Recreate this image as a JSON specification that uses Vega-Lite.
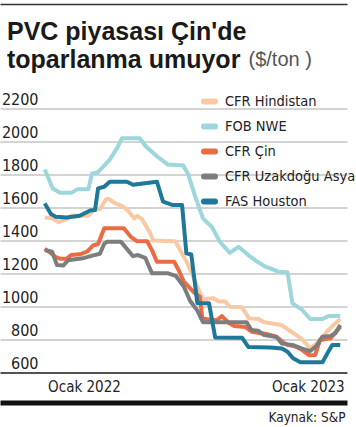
{
  "$schema": "https://vega.github.io/schema/vega-lite/v6.json",
  "autosize": "none",
  "width": 347,
  "height": 264,
  "padding": {"left": 0, "top": 108.5, "right": 9, "bottom": 54.5},
  "background": "white",
  "title": {
    "text": ["PVC piyasası Çin'de", "toparlanma umuyor"],
    "anchor": "start",
    "frame": "group",
    "font": "Liberation Sans",
    "fontSize": 25,
    "fontWeight": "bold",
    "color": "#1a1a1a",
    "lineHeight": 28,
    "baseline": "alphabetic",
    "offset": -88.5,
    "dx": 7
  },
  "config": {"view": {"stroke": null}},
  "data": {"values": [
    {"seri": "CFR Hindistan", "tarih": "2021-10-29", "fiyat": 1540},
    {"seri": "CFR Hindistan", "tarih": "2021-11-10", "fiyat": 1534},
    {"seri": "CFR Hindistan", "tarih": "2021-11-20", "fiyat": 1512},
    {"seri": "CFR Hindistan", "tarih": "2021-12-03", "fiyat": 1530},
    {"seri": "CFR Hindistan", "tarih": "2021-12-12", "fiyat": 1550},
    {"seri": "CFR Hindistan", "tarih": "2022-01-08", "fiyat": 1550},
    {"seri": "CFR Hindistan", "tarih": "2022-01-16", "fiyat": 1582},
    {"seri": "CFR Hindistan", "tarih": "2022-01-27", "fiyat": 1592},
    {"seri": "CFR Hindistan", "tarih": "2022-02-06", "fiyat": 1650},
    {"seri": "CFR Hindistan", "tarih": "2022-02-11", "fiyat": 1651},
    {"seri": "CFR Hindistan", "tarih": "2022-02-21", "fiyat": 1625},
    {"seri": "CFR Hindistan", "tarih": "2022-03-04", "fiyat": 1610},
    {"seri": "CFR Hindistan", "tarih": "2022-03-14", "fiyat": 1580},
    {"seri": "CFR Hindistan", "tarih": "2022-03-24", "fiyat": 1534},
    {"seri": "CFR Hindistan", "tarih": "2022-03-29", "fiyat": 1550},
    {"seri": "CFR Hindistan", "tarih": "2022-04-06", "fiyat": 1528},
    {"seri": "CFR Hindistan", "tarih": "2022-04-19", "fiyat": 1444},
    {"seri": "CFR Hindistan", "tarih": "2022-04-24", "fiyat": 1400},
    {"seri": "CFR Hindistan", "tarih": "2022-05-30", "fiyat": 1395},
    {"seri": "CFR Hindistan", "tarih": "2022-06-07", "fiyat": 1340},
    {"seri": "CFR Hindistan", "tarih": "2022-06-17", "fiyat": 1275},
    {"seri": "CFR Hindistan", "tarih": "2022-06-26", "fiyat": 1200},
    {"seri": "CFR Hindistan", "tarih": "2022-07-06", "fiyat": 1110},
    {"seri": "CFR Hindistan", "tarih": "2022-07-14", "fiyat": 1045},
    {"seri": "CFR Hindistan", "tarih": "2022-07-31", "fiyat": 1050},
    {"seri": "CFR Hindistan", "tarih": "2022-08-09", "fiyat": 1030},
    {"seri": "CFR Hindistan", "tarih": "2022-08-19", "fiyat": 1030},
    {"seri": "CFR Hindistan", "tarih": "2022-08-27", "fiyat": 999},
    {"seri": "CFR Hindistan", "tarih": "2022-09-16", "fiyat": 995},
    {"seri": "CFR Hindistan", "tarih": "2022-09-27", "fiyat": 928},
    {"seri": "CFR Hindistan", "tarih": "2022-10-12", "fiyat": 925},
    {"seri": "CFR Hindistan", "tarih": "2022-10-22", "fiyat": 905},
    {"seri": "CFR Hindistan", "tarih": "2022-11-19", "fiyat": 888},
    {"seri": "CFR Hindistan", "tarih": "2022-12-05", "fiyat": 847},
    {"seri": "CFR Hindistan", "tarih": "2022-12-21", "fiyat": 807},
    {"seri": "CFR Hindistan", "tarih": "2023-01-05", "fiyat": 747},
    {"seri": "CFR Hindistan", "tarih": "2023-01-17", "fiyat": 780},
    {"seri": "CFR Hindistan", "tarih": "2023-01-30", "fiyat": 838},
    {"seri": "CFR Hindistan", "tarih": "2023-02-12", "fiyat": 888},
    {"seri": "CFR Hindistan", "tarih": "2023-02-23", "fiyat": 925},

    {"seri": "FOB NWE", "tarih": "2021-10-29", "fiyat": 1830},
    {"seri": "FOB NWE", "tarih": "2021-11-11", "fiyat": 1715},
    {"seri": "FOB NWE", "tarih": "2021-11-23", "fiyat": 1690},
    {"seri": "FOB NWE", "tarih": "2021-12-12", "fiyat": 1690},
    {"seri": "FOB NWE", "tarih": "2021-12-21", "fiyat": 1710},
    {"seri": "FOB NWE", "tarih": "2022-01-08", "fiyat": 1710},
    {"seri": "FOB NWE", "tarih": "2022-01-14", "fiyat": 1805},
    {"seri": "FOB NWE", "tarih": "2022-01-24", "fiyat": 1815},
    {"seri": "FOB NWE", "tarih": "2022-02-12", "fiyat": 1890},
    {"seri": "FOB NWE", "tarih": "2022-02-24", "fiyat": 1960},
    {"seri": "FOB NWE", "tarih": "2022-03-04", "fiyat": 2020},
    {"seri": "FOB NWE", "tarih": "2022-04-02", "fiyat": 2020},
    {"seri": "FOB NWE", "tarih": "2022-04-12", "fiyat": 1970},
    {"seri": "FOB NWE", "tarih": "2022-04-30", "fiyat": 1910},
    {"seri": "FOB NWE", "tarih": "2022-05-18", "fiyat": 1860},
    {"seri": "FOB NWE", "tarih": "2022-06-12", "fiyat": 1855},
    {"seri": "FOB NWE", "tarih": "2022-06-20", "fiyat": 1800},
    {"seri": "FOB NWE", "tarih": "2022-07-01", "fiyat": 1670},
    {"seri": "FOB NWE", "tarih": "2022-07-14", "fiyat": 1534},
    {"seri": "FOB NWE", "tarih": "2022-07-29", "fiyat": 1480},
    {"seri": "FOB NWE", "tarih": "2022-08-11", "fiyat": 1390},
    {"seri": "FOB NWE", "tarih": "2022-08-27", "fiyat": 1325},
    {"seri": "FOB NWE", "tarih": "2022-09-10", "fiyat": 1362},
    {"seri": "FOB NWE", "tarih": "2022-09-26", "fiyat": 1312},
    {"seri": "FOB NWE", "tarih": "2022-10-11", "fiyat": 1271},
    {"seri": "FOB NWE", "tarih": "2022-10-24", "fiyat": 1241},
    {"seri": "FOB NWE", "tarih": "2022-11-01", "fiyat": 1231},
    {"seri": "FOB NWE", "tarih": "2022-11-14", "fiyat": 1211},
    {"seri": "FOB NWE", "tarih": "2022-11-29", "fiyat": 1207},
    {"seri": "FOB NWE", "tarih": "2022-12-07", "fiyat": 1019},
    {"seri": "FOB NWE", "tarih": "2022-12-23", "fiyat": 979},
    {"seri": "FOB NWE", "tarih": "2023-01-05", "fiyat": 924},
    {"seri": "FOB NWE", "tarih": "2023-01-25", "fiyat": 924},
    {"seri": "FOB NWE", "tarih": "2023-02-04", "fiyat": 942},
    {"seri": "FOB NWE", "tarih": "2023-02-23", "fiyat": 942},

    {"seri": "CFR Çin", "tarih": "2021-10-29", "fiyat": 1350},
    {"seri": "CFR Çin", "tarih": "2021-11-16", "fiyat": 1300},
    {"seri": "CFR Çin", "tarih": "2021-11-23", "fiyat": 1290},
    {"seri": "CFR Çin", "tarih": "2021-12-04", "fiyat": 1290},
    {"seri": "CFR Çin", "tarih": "2021-12-11", "fiyat": 1312},
    {"seri": "CFR Çin", "tarih": "2021-12-25", "fiyat": 1316},
    {"seri": "CFR Çin", "tarih": "2022-01-06", "fiyat": 1332},
    {"seri": "CFR Çin", "tarih": "2022-01-16", "fiyat": 1370},
    {"seri": "CFR Çin", "tarih": "2022-01-24", "fiyat": 1379},
    {"seri": "CFR Çin", "tarih": "2022-02-03", "fiyat": 1474},
    {"seri": "CFR Çin", "tarih": "2022-03-07", "fiyat": 1474},
    {"seri": "CFR Çin", "tarih": "2022-03-19", "fiyat": 1420},
    {"seri": "CFR Çin", "tarih": "2022-03-29", "fiyat": 1395},
    {"seri": "CFR Çin", "tarih": "2022-04-14", "fiyat": 1395},
    {"seri": "CFR Çin", "tarih": "2022-04-22", "fiyat": 1340},
    {"seri": "CFR Çin", "tarih": "2022-04-30", "fiyat": 1271},
    {"seri": "CFR Çin", "tarih": "2022-05-28", "fiyat": 1271},
    {"seri": "CFR Çin", "tarih": "2022-06-05", "fiyat": 1216},
    {"seri": "CFR Çin", "tarih": "2022-06-13", "fiyat": 1150},
    {"seri": "CFR Çin", "tarih": "2022-07-01", "fiyat": 1080},
    {"seri": "CFR Çin", "tarih": "2022-07-09", "fiyat": 1060},
    {"seri": "CFR Çin", "tarih": "2022-07-13", "fiyat": 928},
    {"seri": "CFR Çin", "tarih": "2022-07-26", "fiyat": 920},
    {"seri": "CFR Çin", "tarih": "2022-08-06", "fiyat": 918},
    {"seri": "CFR Çin", "tarih": "2022-08-14", "fiyat": 942},
    {"seri": "CFR Çin", "tarih": "2022-08-26", "fiyat": 898},
    {"seri": "CFR Çin", "tarih": "2022-09-03", "fiyat": 882},
    {"seri": "CFR Çin", "tarih": "2022-09-21", "fiyat": 876},
    {"seri": "CFR Çin", "tarih": "2022-10-02", "fiyat": 847},
    {"seri": "CFR Çin", "tarih": "2022-10-12", "fiyat": 840},
    {"seri": "CFR Çin", "tarih": "2022-10-24", "fiyat": 835},
    {"seri": "CFR Çin", "tarih": "2022-11-11", "fiyat": 817},
    {"seri": "CFR Çin", "tarih": "2022-11-27", "fiyat": 770},
    {"seri": "CFR Çin", "tarih": "2022-12-12", "fiyat": 757},
    {"seri": "CFR Çin", "tarih": "2022-12-23", "fiyat": 736},
    {"seri": "CFR Çin", "tarih": "2023-01-03", "fiyat": 705},
    {"seri": "CFR Çin", "tarih": "2023-01-13", "fiyat": 706},
    {"seri": "CFR Çin", "tarih": "2023-01-21", "fiyat": 797},
    {"seri": "CFR Çin", "tarih": "2023-02-07", "fiyat": 807},
    {"seri": "CFR Çin", "tarih": "2023-02-23", "fiyat": 878},

    {"seri": "CFR Uzakdoğu Asya", "tarih": "2021-10-29", "fiyat": 1342},
    {"seri": "CFR Uzakdoğu Asya", "tarih": "2021-11-10", "fiyat": 1332},
    {"seri": "CFR Uzakdoğu Asya", "tarih": "2021-11-18", "fiyat": 1251},
    {"seri": "CFR Uzakdoğu Asya", "tarih": "2021-11-28", "fiyat": 1248},
    {"seri": "CFR Uzakdoğu Asya", "tarih": "2021-12-06", "fiyat": 1280},
    {"seri": "CFR Uzakdoğu Asya", "tarih": "2021-12-30", "fiyat": 1292},
    {"seri": "CFR Uzakdoğu Asya", "tarih": "2022-01-16", "fiyat": 1310},
    {"seri": "CFR Uzakdoğu Asya", "tarih": "2022-01-27", "fiyat": 1320},
    {"seri": "CFR Uzakdoğu Asya", "tarih": "2022-02-03", "fiyat": 1380},
    {"seri": "CFR Uzakdoğu Asya", "tarih": "2022-02-08", "fiyat": 1393},
    {"seri": "CFR Uzakdoğu Asya", "tarih": "2022-03-02", "fiyat": 1393},
    {"seri": "CFR Uzakdoğu Asya", "tarih": "2022-03-14", "fiyat": 1340},
    {"seri": "CFR Uzakdoğu Asya", "tarih": "2022-03-22", "fiyat": 1305},
    {"seri": "CFR Uzakdoğu Asya", "tarih": "2022-03-30", "fiyat": 1312},
    {"seri": "CFR Uzakdoğu Asya", "tarih": "2022-04-11", "fiyat": 1295},
    {"seri": "CFR Uzakdoğu Asya", "tarih": "2022-04-16", "fiyat": 1251},
    {"seri": "CFR Uzakdoğu Asya", "tarih": "2022-04-22", "fiyat": 1201},
    {"seri": "CFR Uzakdoğu Asya", "tarih": "2022-05-18", "fiyat": 1201},
    {"seri": "CFR Uzakdoğu Asya", "tarih": "2022-05-31", "fiyat": 1185},
    {"seri": "CFR Uzakdoğu Asya", "tarih": "2022-06-07", "fiyat": 1150},
    {"seri": "CFR Uzakdoğu Asya", "tarih": "2022-06-13", "fiyat": 1120},
    {"seri": "CFR Uzakdoğu Asya", "tarih": "2022-06-23", "fiyat": 1035},
    {"seri": "CFR Uzakdoğu Asya", "tarih": "2022-07-05", "fiyat": 975},
    {"seri": "CFR Uzakdoğu Asya", "tarih": "2022-07-14", "fiyat": 905},
    {"seri": "CFR Uzakdoğu Asya", "tarih": "2022-09-23", "fiyat": 905},
    {"seri": "CFR Uzakdoğu Asya", "tarih": "2022-10-01", "fiyat": 858},
    {"seri": "CFR Uzakdoğu Asya", "tarih": "2022-10-12", "fiyat": 853},
    {"seri": "CFR Uzakdoğu Asya", "tarih": "2022-10-22", "fiyat": 827},
    {"seri": "CFR Uzakdoğu Asya", "tarih": "2022-11-11", "fiyat": 815},
    {"seri": "CFR Uzakdoğu Asya", "tarih": "2022-11-20", "fiyat": 775},
    {"seri": "CFR Uzakdoğu Asya", "tarih": "2022-12-07", "fiyat": 767},
    {"seri": "CFR Uzakdoğu Asya", "tarih": "2022-12-23", "fiyat": 745},
    {"seri": "CFR Uzakdoğu Asya", "tarih": "2023-01-05", "fiyat": 730},
    {"seri": "CFR Uzakdoğu Asya", "tarih": "2023-01-15", "fiyat": 760},
    {"seri": "CFR Uzakdoğu Asya", "tarih": "2023-01-25", "fiyat": 817},
    {"seri": "CFR Uzakdoğu Asya", "tarih": "2023-02-07", "fiyat": 821},
    {"seri": "CFR Uzakdoğu Asya", "tarih": "2023-02-15", "fiyat": 838},
    {"seri": "CFR Uzakdoğu Asya", "tarih": "2023-02-23", "fiyat": 888},

    {"seri": "FAS Houston", "tarih": "2021-10-29", "fiyat": 1625},
    {"seri": "FAS Houston", "tarih": "2021-11-08", "fiyat": 1560},
    {"seri": "FAS Houston", "tarih": "2021-11-16", "fiyat": 1544},
    {"seri": "FAS Houston", "tarih": "2021-12-04", "fiyat": 1540},
    {"seri": "FAS Houston", "tarih": "2021-12-25", "fiyat": 1550},
    {"seri": "FAS Houston", "tarih": "2022-01-11", "fiyat": 1582},
    {"seri": "FAS Houston", "tarih": "2022-01-19", "fiyat": 1585},
    {"seri": "FAS Houston", "tarih": "2022-01-24", "fiyat": 1716},
    {"seri": "FAS Houston", "tarih": "2022-02-03", "fiyat": 1726},
    {"seri": "FAS Houston", "tarih": "2022-02-12", "fiyat": 1756},
    {"seri": "FAS Houston", "tarih": "2022-03-12", "fiyat": 1756},
    {"seri": "FAS Houston", "tarih": "2022-03-22", "fiyat": 1738},
    {"seri": "FAS Houston", "tarih": "2022-04-30", "fiyat": 1756},
    {"seri": "FAS Houston", "tarih": "2022-05-10", "fiyat": 1635},
    {"seri": "FAS Houston", "tarih": "2022-05-26", "fiyat": 1615},
    {"seri": "FAS Houston", "tarih": "2022-06-10", "fiyat": 1615},
    {"seri": "FAS Houston", "tarih": "2022-06-17", "fiyat": 1322},
    {"seri": "FAS Houston", "tarih": "2022-06-25", "fiyat": 1315},
    {"seri": "FAS Houston", "tarih": "2022-07-05", "fiyat": 1019},
    {"seri": "FAS Houston", "tarih": "2022-07-24", "fiyat": 1019},
    {"seri": "FAS Houston", "tarih": "2022-08-03", "fiyat": 812},
    {"seri": "FAS Houston", "tarih": "2022-09-16", "fiyat": 810},
    {"seri": "FAS Houston", "tarih": "2022-09-26", "fiyat": 755},
    {"seri": "FAS Houston", "tarih": "2022-11-01", "fiyat": 752},
    {"seri": "FAS Houston", "tarih": "2022-11-20", "fiyat": 745},
    {"seri": "FAS Houston", "tarih": "2022-11-29", "fiyat": 726},
    {"seri": "FAS Houston", "tarih": "2022-12-08", "fiyat": 686},
    {"seri": "FAS Houston", "tarih": "2022-12-20", "fiyat": 662},
    {"seri": "FAS Houston", "tarih": "2023-01-25", "fiyat": 662},
    {"seri": "FAS Houston", "tarih": "2023-02-02", "fiyat": 716},
    {"seri": "FAS Houston", "tarih": "2023-02-10", "fiyat": 767},
    {"seri": "FAS Houston", "tarih": "2023-02-23", "fiyat": 767}
  ]},
  "resolve": {"axis": {"x": "independent"}},
  "layer": [
    {
      "mark": {"type": "rule", "opacity": 0},
      "encoding": {
        "x": {
          "field": "tarih", "type": "temporal",
          "scale": {"domain": ["2021-08-17", "2023-03-06"]},
          "axis": {"orient": "top", "offset": 104.5, "minExtent": 0, "domain": true, "domainColor": "#333333", "domainWidth": 1.5, "labels": false, "ticks": false, "grid": false, "title": null}
        }
      }
    },
    {
      "mark": {"type": "line", "strokeWidth": 4, "strokeJoin": "round"},
      "encoding": {
        "x": {
          "field": "tarih", "type": "temporal",
          "scale": {"domain": ["2021-08-17", "2023-03-06"]},
          "axis": {
            "orient": "bottom", "offset": 30,
            "values": [{"year": 2022, "month": 1, "date": 1}, {"year": 2023, "month": 1, "date": 1}],
            "labelExpr": "'Ocak ' + timeFormat(datum.value, '%Y')",
            "domain": true, "domainColor": "#111111", "domainWidth": 5,
            "ticks": false, "tickSize": 0, "grid": false,
            "labelPadding": -10.8, "labelBaseline": "alphabetic",
            "labelFont": "DejaVu Sans Condensed, sans-serif",
            "labelFontSize": 15, "labelColor": "#222222", "labelFlush": false, "labelOverlap": false,
            "title": "Kaynak: S&P", "titleX": 345, "titleY": 19.2, "titleAlign": "right", "titleAnchor": "end",
            "titleBaseline": "alphabetic", "titleFontWeight": "normal",
            "titleFont": "DejaVu Sans Condensed, sans-serif",
            "titleFontSize": 13.5, "titleColor": "#222222"
          }
        },
        "y": {
          "field": "fiyat", "type": "quantitative",
          "scale": {"domain": [600, 2200], "nice": false, "zero": false},
          "axis": {
            "orient": "left",
            "values": [600, 800, 1000, 1200, 1400, 1600, 1800, 2000, 2200],
            "format": "d",
            "grid": true,
            "gridColor": {"condition": {"test": "datum.value === 600", "value": "#1a1a1a"}, "value": "#a8a8a8"},
            "gridWidth": {"condition": {"test": "datum.value === 600", "value": 1.5}, "value": 1},
            "domain": false, "ticks": false, "tickSize": 0,
            "labelAlign": "right", "labelPadding": -38, "labelBaseline": "alphabetic", "labelOffset": -4,
            "labelFont": "DejaVu Sans Condensed, sans-serif",
            "labelFontSize": 16, "labelColor": "#222222",
            "title": "($/ton )", "titleAngle": 0, "titleAlign": "left", "titleBaseline": "alphabetic",
            "titleX": 248, "titleY": -43.5, "titleFontWeight": "normal",
            "titleFont": "Liberation Sans", "titleFontSize": 20, "titleColor": "#555555"
          }
        },
        "color": {
          "field": "seri", "type": "nominal",
          "scale": {
            "domain": ["CFR Hindistan", "FOB NWE", "CFR Çin", "CFR Uzakdoğu Asya", "FAS Houston"],
            "range": ["#f8c9a2", "#9dd6dc", "#ec6b43", "#7d7d7d", "#1e7899"]
          },
          "legend": {
            "orient": "none", "legendX": 201, "legendY": -15.5, "title": null,
            "symbolType": "stroke", "symbolStrokeWidth": 6, "symbolSize": 121,
            "labelFont": "DejaVu Sans Condensed, sans-serif",
            "labelFontSize": 14.5, "labelColor": "#222222", "rowPadding": 0, "labelOffset": 7,
            "encode": {"symbols": {"update": {"strokeCap": {"value": "round"}}}}
          }
        }
      }
    }
  ]
}
